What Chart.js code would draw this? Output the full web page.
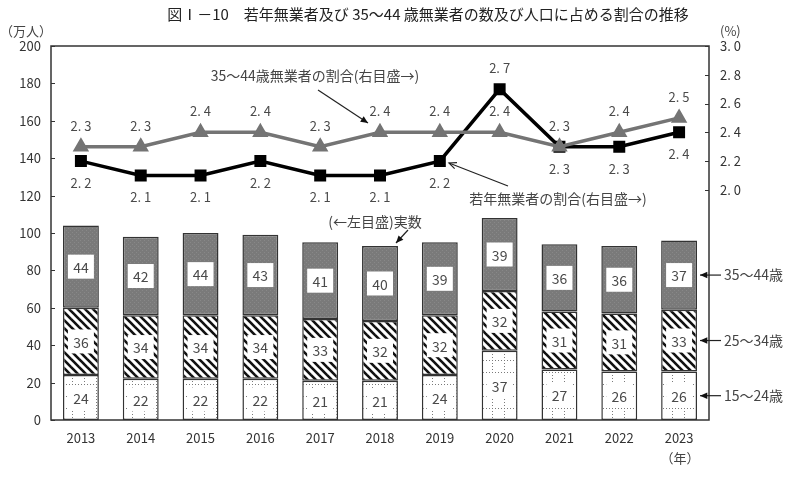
<!DOCTYPE html>
<html>
<head>
<meta charset="utf-8">
<script src="https://cdn.jsdelivr.net/npm/chart.js@4"></script>
<style>
  body { margin: 0; background: #fff; }
  canvas { display: block; }
</style>
</head>
<body>
<canvas id="neetChart" width="800" height="477"></canvas>
<script>
const FONT = "'Noto Sans CJK JP', 'Noto Sans', sans-serif";

// data
const years = ['2013', '2014', '2015', '2016', '2017', '2018', '2019', '2020', '2021', '2022', '2023'];
const age15to24 = [24, 22, 22, 22, 21, 21, 24, 37, 27, 26, 26];
const age25to34 = [36, 34, 34, 34, 33, 32, 32, 32, 31, 31, 33];
const age35to44 = [44, 42, 44, 43, 41, 40, 39, 39, 36, 36, 37];
const youthRate = [2.2, 2.1, 2.1, 2.2, 2.1, 2.1, 2.2, 2.7, 2.3, 2.3, 2.4];
const midRate = [2.3, 2.3, 2.4, 2.4, 2.3, 2.4, 2.4, 2.4, 2.3, 2.4, 2.5];
// where each rate label goes: 'a' above the point, 'b' below
const youthLabelPos = ['b', 'b', 'b', 'b', 'b', 'b', 'b', 'a', 'b', 'b', 'b'];
const midLabelPos = ['a', 'a', 'a', 'a', 'a', 'a', 'a', 'a', 'a', 'a', 'a'];
const ageLabels = ['15～24歳', '25～34歳', '35～44歳'];

function fmtRate(v) {
    return v.toFixed(1).replace('.', '. ');
}

// Fill patterns for the bars
function makePattern(kind) {
    const c = document.createElement('canvas');
    const g = c.getContext('2d');
    if (kind === 'stripes') {
        c.width = 8; c.height = 8;
        g.fillStyle = '#fff';
        g.fillRect(0, 0, 8, 8);
        g.strokeStyle = '#111';
        g.lineWidth = 2.6;
        [-8, 0, 8].forEach(dx => {
            g.beginPath();
            g.moveTo(dx - 1, -1);
            g.lineTo(dx + 9, 9);
            g.stroke();
        });
    } else if (kind === 'dots') {
        c.width = 12; c.height = 12;
        g.fillStyle = '#fff';
        g.fillRect(0, 0, 12, 12);
        g.fillStyle = '#7a7a7a';
        for (let i = 0; i < 12; i += 3) {
            g.fillRect(i, 0, 1, 1);
            g.fillRect(0, i, 1, 1);
        }
    } else {
        c.width = 4; c.height = 4;
        g.fillStyle = '#7a7a7a';
        g.fillRect(0, 0, 4, 4);
        g.fillStyle = '#888';
        g.fillRect(0, 0, 1, 1);
        g.fillRect(2, 2, 1, 1);
    }
    return g.createPattern(c, 'repeat');
}

function drawArrow(ctx, x1, y1, x2, y2, open) {
    ctx.beginPath();
    ctx.moveTo(x1, y1);
    ctx.lineTo(x2, y2);
    ctx.stroke();
    const a = Math.atan2(y2 - y1, x2 - x1);
    const len = 8, w = 0.42;
    ctx.beginPath();
    ctx.moveTo(x2 - len * Math.cos(a - w), y2 - len * Math.sin(a - w));
    ctx.lineTo(x2, y2);
    ctx.lineTo(x2 - len * Math.cos(a + w), y2 - len * Math.sin(a + w));
    if (open) {
        ctx.stroke();
    } else {
        ctx.closePath();
        ctx.fill();
    }
}

const overlayPlugin = {
    id: 'overlay',
    afterDatasetsDraw(chart) {
        const ctx = chart.ctx;
        const area = chart.chartArea;
        ctx.save();

        // values inside the bar segments
        ctx.font = '14px ' + FONT;
        ctx.textAlign = 'center';
        ctx.textBaseline = 'middle';
        [0, 1, 2].forEach(i => {
            const meta = chart.getDatasetMeta(i);
            meta.data.forEach((el, j) => {
                const cy = (el.y + el.base) / 2;
                ctx.fillStyle = '#fff';
                ctx.fillRect(el.x - 13, cy - 12, 26, 24);
                ctx.fillStyle = '#4a4a4a';
                ctx.fillText(chart.data.datasets[i].data[j], el.x, cy + 1);
            });
        });

        // rate labels
        ctx.font = '13px ' + FONT;
        const rateSets = [[3, youthLabelPos], [4, midLabelPos]];
        rateSets.forEach(([i, pos]) => {
            const meta = chart.getDatasetMeta(i);
            meta.data.forEach((el, j) => {
                const dy = pos[j] === 'a' ? -21 : 22;
                ctx.fillStyle = '#4a4a4a';
                ctx.fillText(fmtRate(chart.data.datasets[i].data[j]), el.x, el.y + dy);
            });
        });

        // frame and inward ticks
        ctx.strokeStyle = '#333';
        ctx.lineWidth = 1.5;
        ctx.strokeRect(area.left, area.top, area.right - area.left, area.bottom - area.top);
        ctx.lineWidth = 1;
        chart.scales.y.ticks.forEach(t => {
            const py = Math.round(chart.scales.y.getPixelForValue(t.value)) + 0.5;
            ctx.beginPath();
            ctx.moveTo(area.left, py);
            ctx.lineTo(area.left + 4, py);
            ctx.stroke();
        });
        chart.scales.y2.ticks.forEach(t => {
            if (t.value < 1.99) return;
            const py = Math.round(chart.scales.y2.getPixelForValue(t.value)) + 0.5;
            ctx.beginPath();
            ctx.moveTo(area.right - 4, py);
            ctx.lineTo(area.right, py);
            ctx.stroke();
        });
        ctx.restore();
    },
    afterDraw(chart) {
        const ctx = chart.ctx;
        ctx.save();
        ctx.fillStyle = '#222';
        ctx.textBaseline = 'middle';
        ctx.textAlign = 'center';
        ctx.font = '15px ' + FONT;
        ctx.fillText('図Ⅰ－10　若年無業者及び 35～44 歳無業者の数及び人口に占める割合の推移', 428, 14);

        ctx.fillStyle = '#444';
        ctx.font = '13px ' + FONT;
        ctx.textAlign = 'left';
        ctx.fillText('（万人）', 0, 31);
        ctx.fillText('(%)', 720, 31);
        ctx.textAlign = 'center';
        ctx.fillText('（年）', 680, 458);

        // annotations
        ctx.font = '14px ' + FONT;
        ctx.strokeStyle = '#222';
        ctx.fillStyle = '#444';
        ctx.lineWidth = 1.2;
        ctx.fillText('35～44歳無業者の割合(右目盛→)', 315, 76);
        ctx.fillText('若年無業者の割合(右目盛→)', 558, 199);
        ctx.fillText('(←左目盛)実数', 375, 222);
        ctx.fillStyle = '#111';
        drawArrow(ctx, 318, 90, 368, 123, false);
        drawArrow(ctx, 508, 186, 449, 163, true);
        drawArrow(ctx, 408, 230, 396, 243, false);

        // age group labels pointing at the last bar
        const last = years.length - 1;
        [0, 1, 2].forEach(i => {
            const el = chart.getDatasetMeta(i).data[last];
            const cy = (el.y + el.base) / 2;
            ctx.fillStyle = '#111';
            drawArrow(ctx, 721, cy, 700, cy, false);
            ctx.fillStyle = '#444';
            ctx.textAlign = 'left';
            ctx.fillText(ageLabels[i], 724, cy);
        });
        ctx.restore();
    }
};

document.addEventListener('DOMContentLoaded', () => {
    const ctx = document.getElementById('neetChart').getContext('2d');
    const barStyle = {
        type: 'bar',
        yAxisID: 'y',
        borderColor: '#333',
        borderWidth: 1.5,
        borderSkipped: false,
        barPercentage: 0.6,
        categoryPercentage: 1,
        order: 2
    };
    new Chart(ctx, {
        data: {
            labels: years,
            datasets: [
                { ...barStyle, label: '15～24歳', data: age15to24, backgroundColor: makePattern('dots') },
                { ...barStyle, label: '25～34歳', data: age25to34, backgroundColor: makePattern('stripes') },
                { ...barStyle, label: '35～44歳', data: age35to44, backgroundColor: makePattern('gray') },
                {
                    type: 'line',
                    label: '若年無業者の割合',
                    data: youthRate,
                    yAxisID: 'y2',
                    borderColor: '#000',
                    backgroundColor: '#000',
                    borderWidth: 3.5,
                    pointStyle: 'rect',
                    pointRadius: 6,
                    tension: 0,
                    order: 1
                },
                {
                    type: 'line',
                    label: '35～44歳無業者の割合',
                    data: midRate,
                    yAxisID: 'y2',
                    borderColor: '#747474',
                    backgroundColor: '#747474',
                    borderWidth: 3.5,
                    pointStyle: 'triangle',
                    pointRadius: 6,
                    tension: 0,
                    order: 0
                }
            ]
        },
        options: {
            responsive: false,
            animation: false,
            layout: { padding: { top: 46, left: 0, right: 0, bottom: 0 } },
            plugins: {
                legend: { display: false },
                tooltip: { enabled: false }
            },
            scales: {
                x: {
                    stacked: true,
                    grid: { display: false, drawTicks: false },
                    border: { display: false },
                    ticks: { color: '#333', padding: 10, font: { family: FONT, size: 13 } },
                    afterFit(scale) { scale.height = 57; }
                },
                y: {
                    stacked: true,
                    position: 'left',
                    min: 0,
                    max: 200,
                    grid: { display: false, drawTicks: false },
                    border: { display: false },
                    ticks: { stepSize: 20, color: '#333', padding: 10, font: { family: FONT, size: 13 } },
                    afterFit(scale) { scale.width = 51; }
                },
                y2: {
                    position: 'right',
                    min: 0.4,
                    max: 3.0,
                    grid: { display: false, drawTicks: false },
                    border: { display: false },
                    ticks: {
                        stepSize: 0.2,
                        color: '#333',
                        padding: 11,
                        font: { family: FONT, size: 13 },
                        callback: v => (v >= 1.99 ? fmtRate(v) : '')
                    },
                    afterFit(scale) { scale.width = 91; }
                }
            }
        },
        plugins: [overlayPlugin]
    });
});
</script>
</body>
</html>
